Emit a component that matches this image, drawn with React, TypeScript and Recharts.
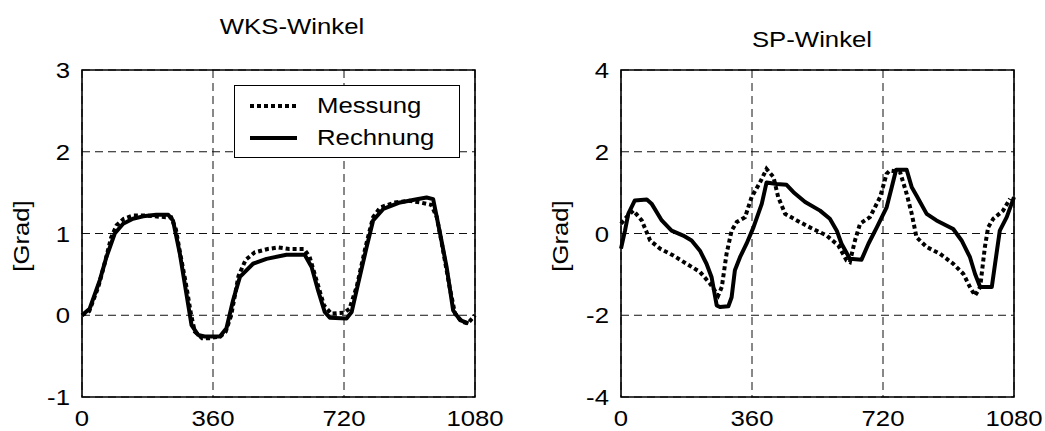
import React from 'react';
import { LineChart, Line, XAxis, YAxis, CartesianGrid, ReferenceArea, Legend } from 'recharts';

const degTicks = [0, 360, 720, 1080];
const wksTicks = [-1, 0, 1, 2, 3];
const spTicks = [-4, -2, 0, 2, 4];
const seriesNames = ['Messung', 'Rechnung'];
const titles = ['WKS-Winkel', 'SP-Winkel'];
const yLabel = '[Grad]';

const wksMessungDeg = [0, 20, 45, 65, 80, 95, 115, 140, 170, 200, 230, 245, 258, 270, 285, 300, 310, 330, 350, 380, 395, 410, 430, 450, 475, 510, 540, 570, 610, 625, 645, 665, 685, 720, 735, 755, 780, 800, 820, 860, 900, 930, 960, 975, 990, 1010, 1025, 1045, 1060, 1080];
const wksMessungVal = [0, 0.05, 0.35, 0.68, 0.95, 1.1, 1.18, 1.22, 1.22, 1.21, 1.2, 1.2, 1.05, 0.75, 0.4, 0.0, -0.2, -0.28, -0.28, -0.26, -0.2, 0.0, 0.48, 0.68, 0.77, 0.81, 0.83, 0.81, 0.81, 0.72, 0.42, 0.12, 0.02, 0.03, 0.08, 0.35, 0.85, 1.2, 1.32, 1.38, 1.4, 1.38, 1.35, 1.2, 0.85, 0.35, 0.02, -0.08, -0.1, 0.0];

const wksRechnungDeg = [0, 21, 49, 67, 90, 113, 140, 168, 204, 237, 250, 269, 287, 301, 319, 337, 379, 397, 415, 434, 470, 507, 562, 612, 631, 649, 667, 681, 727, 741, 759, 782, 800, 828, 874, 920, 947, 965, 984, 1002, 1020, 1039, 1062];
const wksRechnungVal = [0, 0.08, 0.43, 0.71, 1.0, 1.12, 1.18, 1.21, 1.23, 1.23, 1.16, 0.75, 0.26, -0.12, -0.24, -0.26, -0.26, -0.16, 0.18, 0.47, 0.63, 0.69, 0.74, 0.74, 0.59, 0.3, 0.04, -0.03, -0.04, 0.04, 0.39, 0.83, 1.16, 1.3, 1.38, 1.42, 1.44, 1.42, 1.0, 0.59, 0.06, -0.06, -0.1];

const spMessungDeg = [0, 15, 34, 57, 80, 107, 144, 180, 217, 245, 267, 277, 290, 304, 318, 341, 359, 382, 400, 419, 432, 451, 483, 519, 565, 597, 620, 629, 643, 657, 684, 712, 730, 739, 767, 785, 799, 812, 840, 877, 913, 941, 959, 973, 987, 1000, 1009, 1023, 1050, 1069];
const spMessungVal = [0.24, 0.4, 0.56, 0.32, -0.17, -0.37, -0.54, -0.74, -0.94, -1.23, -1.52, -1.31, -0.5, 0.07, 0.28, 0.4, 0.89, 1.25, 1.58, 1.38, 0.89, 0.48, 0.32, 0.15, -0.05, -0.29, -0.66, -0.7, -0.17, 0.24, 0.4, 0.89, 1.46, 1.54, 1.5, 0.97, 0.48, -0.09, -0.33, -0.5, -0.74, -0.99, -1.31, -1.52, -1.31, -0.33, 0.15, 0.36, 0.56, 0.85];

const spRechnungDeg = [0, 11, 20, 38, 71, 84, 112, 139, 171, 194, 217, 235, 249, 263, 272, 295, 304, 313, 327, 345, 364, 387, 400, 428, 455, 474, 506, 547, 574, 593, 606, 629, 661, 680, 703, 730, 744, 756, 785, 799, 812, 840, 867, 913, 936, 959, 973, 987, 1019, 1028, 1041, 1060, 1080];
const spRechnungVal = [-0.37, 0.07, 0.48, 0.81, 0.83, 0.73, 0.32, 0.07, -0.05, -0.17, -0.42, -0.74, -1.07, -1.76, -1.8, -1.78, -1.56, -0.9, -0.58, -0.25, 0.15, 0.73, 1.25, 1.21, 1.19, 1.01, 0.77, 0.56, 0.36, 0.07, -0.25, -0.62, -0.64, -0.25, 0.15, 0.64, 1.13, 1.56, 1.56, 1.13, 0.93, 0.48, 0.32, 0.11, -0.17, -0.58, -0.99, -1.31, -1.31, -0.74, 0.07, 0.4, 0.89];

const FONT = '"Liberation Sans", Arial, Helvetica, sans-serif';
const SX = 1.17;
const FS = 22;
const DOT = '4 3';
const LW = 4;

const zip = (xs: number[], ys: number[]) => xs.map((d, i) => ({ deg: d, val: ys[i] }));

const XTick = (props: any) => {
  const { x, y, payload } = props;
  return (
    <g transform={`translate(${x},${y})`}>
      <text transform={`scale(${SX},1)`} textAnchor="middle" y={29} fontSize={FS} fontFamily={FONT} fill="#000">
        {payload.value}
      </text>
    </g>
  );
};

const YTick = (props: any) => {
  const { x, y, payload } = props;
  return (
    <g transform={`translate(${x - 12},${y})`}>
      <text transform={`scale(${SX},1)`} textAnchor="end" y={8} fontSize={FS} fontFamily={FONT} fill="#000">
        {payload.value}
      </text>
    </g>
  );
};

const LegendBox = () => (
  <div style={{ width: 226, height: 73, border: '1.5px solid #000', boxSizing: 'border-box', background: '#fff', position: 'relative' }}>
    <svg width={223} height={70} style={{ position: 'absolute', left: 0, top: 0 }}>
      <line x1={15} x2={62} y1={20} y2={20} stroke="#000" strokeWidth={LW} strokeDasharray={DOT} />
      <line x1={15} x2={62} y1={52} y2={52} stroke="#000" strokeWidth={LW} />
      <g transform="translate(82,27)">
        <text transform={`scale(${SX},1)`} fontSize={FS} fontFamily={FONT} fill="#000">{seriesNames[0]}</text>
      </g>
      <g transform="translate(82,59)">
        <text transform={`scale(${SX},1)`} fontSize={FS} fontFamily={FONT} fill="#000">{seriesNames[1]}</text>
      </g>
    </svg>
  </div>
);

type PanelProps = {
  width: number;
  margin: any;
  yWidth: number;
  yDomain: [number, number];
  yTicks: number[];
  messung: { deg: number; val: number }[];
  rechnung: { deg: number; val: number }[];
  legend?: boolean;
};

const Panel = ({ width, margin, yWidth, yDomain, yTicks, messung, rechnung, legend }: PanelProps) => (
  <LineChart width={width} height={431} margin={margin}>
    <CartesianGrid stroke="#111" strokeDasharray="8 5" strokeWidth={1} />
    <XAxis
      dataKey="deg"
      type="number"
      domain={[0, 1080]}
      ticks={degTicks}
      interval={0}
      height={30}
      tickSize={0}
      tickMargin={0}
      tickLine={false}
      axisLine={false}
      tick={<XTick />}
    />
    <YAxis
      type="number"
      domain={yDomain}
      ticks={yTicks}
      interval={0}
      width={yWidth}
      tickSize={0}
      tickMargin={0}
      tickLine={false}
      axisLine={false}
      tick={<YTick />}
    />
    <ReferenceArea x1={0} x2={1080} y1={yDomain[0]} y2={yDomain[1]} fill="none" stroke="#000" strokeWidth={1.6} />
    <Line data={messung} dataKey="val" name={seriesNames[0]} type="linear" stroke="#000" strokeWidth={LW} strokeDasharray={DOT} dot={false} isAnimationActive={false} />
    <Line data={rechnung} dataKey="val" name={seriesNames[1]} type="linear" stroke="#000" strokeWidth={LW} strokeLinejoin="round" dot={false} isAnimationActive={false} />
    {legend ? (
      <Legend
        layout="vertical"
        align="center"
        verticalAlign="middle"
        content={() => <LegendBox />}
        wrapperStyle={{ position: 'absolute', left: 234, top: 85, width: 226, height: 73 }}
      />
    ) : null}
  </LineChart>
);

export default function App() {
  return (
    <div style={{ position: 'absolute', left: 0, top: 0, width: 1045, height: 431, background: '#fff', overflow: 'hidden' }}>
      <div style={{ position: 'absolute', left: 0, top: 0 }}>
        <Panel
          width={520}
          margin={{ top: 70, right: 45, bottom: 4, left: 0 }}
          yWidth={82}
          yDomain={[-1, 3]}
          yTicks={wksTicks}
          messung={zip(wksMessungDeg, wksMessungVal)}
          rechnung={zip(wksRechnungDeg, wksRechnungVal)}
          legend
        />
      </div>
      <div style={{ position: 'absolute', left: 540, top: 0 }}>
        <Panel
          width={505}
          margin={{ top: 70, right: 31, bottom: 4, left: 0 }}
          yWidth={81}
          yDomain={[-4, 4]}
          yTicks={spTicks}
          messung={zip(spMessungDeg, spMessungVal)}
          rechnung={zip(spRechnungDeg, spRechnungVal)}
        />
      </div>
      <svg width={1045} height={431} style={{ position: 'absolute', left: 0, top: 0, pointerEvents: 'none' }}>
        <g transform="translate(292,34)">
          <text transform={`scale(${SX},1)`} textAnchor="middle" fontSize={FS} fontFamily={FONT} fill="#000">{titles[0]}</text>
        </g>
        <g transform="translate(812,47)">
          <text transform={`scale(${SX},1)`} textAnchor="middle" fontSize={FS} fontFamily={FONT} fill="#000">{titles[1]}</text>
        </g>
        <g transform="translate(29,236) rotate(-90)">
          <text transform={`scale(${SX},1)`} textAnchor="middle" fontSize={FS} fontFamily={FONT} fill="#000">{yLabel}</text>
        </g>
        <g transform="translate(568,236) rotate(-90)">
          <text transform={`scale(${SX},1)`} textAnchor="middle" fontSize={FS} fontFamily={FONT} fill="#000">{yLabel}</text>
        </g>
      </svg>
    </div>
  );
}
